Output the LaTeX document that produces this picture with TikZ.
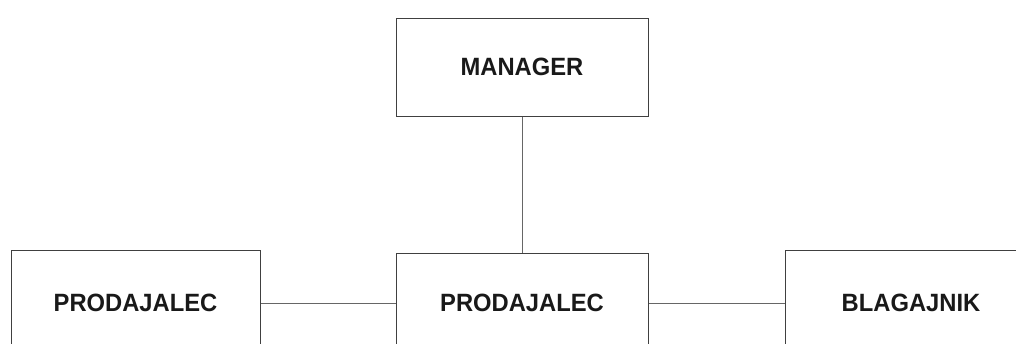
\documentclass[tikz,border=0pt]{standalone}
\usepackage{fontspec}
\setmainfont[FakeStretch=0.95]{Liberation Sans}
\begin{document}
\begin{tikzpicture}[x=1pt,y=-1pt,
  rolebox/.style={draw=black!75, line width=1pt, fill=white, inner sep=0pt,
    font=\fontsize{25}{29}\selectfont\bfseries, text=black!90},
  link/.style={draw=black!60, line width=1pt}]
  \useasboundingbox[fill=white] (0,0) rectangle (1016,343);
  % top of the chart
  \node[rolebox, minimum width=252pt, minimum height=98pt] (mgr) at (522,67) {MANAGER};
  % bottom row, boxes run past the lower edge
  \node[rolebox, minimum width=249pt, minimum height=106pt] (left) at (135.5,303) {PRODAJALEC};
  \node[rolebox, minimum width=252pt, minimum height=100pt] (mid) at (522,303) {PRODAJALEC};
  \node[rolebox, minimum width=252pt, minimum height=106pt] (right) at (911,303) {BLAGAJNIK};
  % connectors
  \draw[link] (mgr.south) -- (mid.north);
  \draw[link] (left.east) -- (mid.west);
  \draw[link] (mid.east) -- (right.west);
\end{tikzpicture}
\end{document}
